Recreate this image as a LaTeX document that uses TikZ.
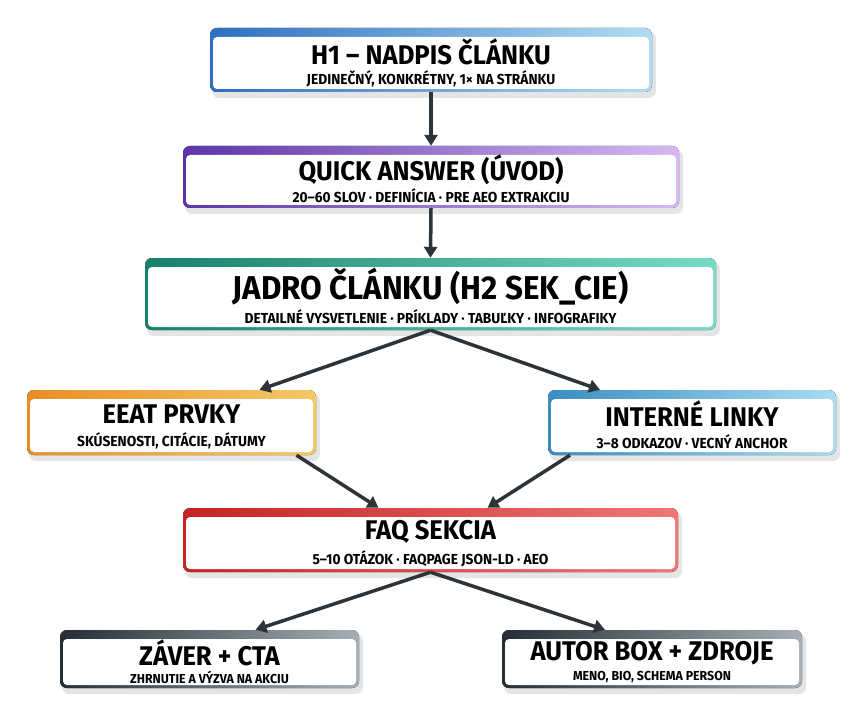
\documentclass[tikz,border=0pt]{standalone}
\usepackage{fontspec}
\setmainfont{Fira Sans}[FakeStretch=0.95]
\usetikzlibrary{calc,arrows.meta}
\definecolor{ink}{HTML}{2E3338}
\definecolor{hL}{HTML}{2E6FC0}\definecolor{hR}{HTML}{B0DDF2}
\definecolor{qL}{HTML}{5E35A8}\definecolor{qR}{HTML}{D8B8F2}
\definecolor{jL}{HTML}{17806A}\definecolor{jR}{HTML}{78DCC4}
\definecolor{eL}{HTML}{E88E26}\definecolor{eR}{HTML}{F5C866}
\definecolor{iL}{HTML}{3A8EC0}\definecolor{iR}{HTML}{A8DCF2}
\definecolor{fL}{HTML}{C42424}\definecolor{fR}{HTML}{F07676}
\definecolor{zL}{HTML}{272D35}\definecolor{zR}{HTML}{A8AEB6}
\newcommand\mybox[9]{%
  \fill[black,opacity=0.10,rounded corners=7] (#2+2,#3+4) rectangle (#4+4,#5+6);
  \fill[left color=#6,right color=#7,rounded corners=7] (#2,#3) rectangle (#4,#5);
  \fill[white,rounded corners=4] (#2+3,#3+9) rectangle (#4-3,#5-3);
  \node[inner sep=0,minimum width=#4-#2,minimum height=#5-#3] (#1) at ({(#2+#4)/2},{(#3+#5)/2}) {};
  \node[font=\bfseries\fontsize{#9}{#9}\selectfont,text=black] at ({(#2+#4)/2},{#3+0.12*(#5-#3)+#9*0.6}) {#8};
}
\newcommand\mysub[4][14.5]{\node[font=\bfseries\fontsize{#1}{#1}\selectfont,text=black] at ($(#2.south)+(0,-#4)$) {#3};}
\tikzset{arr/.style={line width=3.5pt,draw=ink,-{Triangle[length=11pt,width=13pt]}}}
\begin{document}
\begin{tikzpicture}[x=1pt,y=-1pt]
\useasboundingbox (0,0) rectangle (867,714);
\fill[white] (0,0) rectangle (867,714);
\mybox{h1}{210}{28}{652}{92}{hL}{hR}{H1 – NADPIS ČLÁNKU}{27}
\mysub{h1}{JEDINEČNÝ, KONKRÉTNY, 1× NA STRÁNKU}{13}
\mybox{q}{183}{146}{679}{208}{qL}{qR}{QUICK ANSWER (ÚVOD)}{27}
\mysub{q}{20–60 SLOV · DEFINÍCIA · PRE AEO EXTRAKCIU}{13}
\mybox{j}{145}{258}{716}{330}{jL}{jR}{JADRO ČLÁNKU (H2 SEK\_CIE)}{33}
\mysub{j}{DETAILNÉ VYSVETLENIE · PRÍKLADY · TABUĽKY · INFOGRAFIKY}{14}
\mybox{e}{27}{390}{316}{455}{eL}{eR}{EEAT PRVKY}{27}
\mysub{e}{SKÚSENOSTI, CITÁCIE, DÁTUMY}{14}
\mybox{i}{548}{390}{836}{455}{iL}{iR}{INTERNÉ LINKY}{27}
\mysub{i}{3–8 ODKAZOV · VECNÝ ANCHOR}{14}
\mybox{f}{183}{508}{678}{572}{fL}{fR}{FAQ SEKCIA}{27}
\mysub{f}{5–10 OTÁZOK · FAQPAGE JSON-LD · AEO}{13}
\mybox{z}{60}{630}{359}{688}{zL}{zR}{ZÁVER + CTA}{27}
\mysub[13]{z}{ZHRNUTIE A VÝZVA NA AKCIU}{11}
\mybox{a}{502}{630}{802}{688}{zL}{zR}{AUTOR BOX + ZDROJE}{27}
\mysub[13]{a}{MENO, BIO, SCHEMA PERSON}{11}
\draw[arr] (h1.south) -- (q.north);
\draw[arr] (q.south) -- (j.north);
\draw[arr] (j.south) -- ($(e.north)+(88,0)$);
\draw[arr] (j.south) -- ($(i.north)+(-92,0)$);
\draw[arr] ($(e.south)+(125,0)$) -- ($(f.north)+(-52,0)$);
\draw[arr] ($(i.south)+(-122,0)$) -- ($(f.north)+(57,0)$);
\draw[arr] (f.south) -- ($(z.north)+(46,0)$);
\draw[arr] (f.south) -- ($(a.north)+(-47,0)$);
\end{tikzpicture}
\end{document}
